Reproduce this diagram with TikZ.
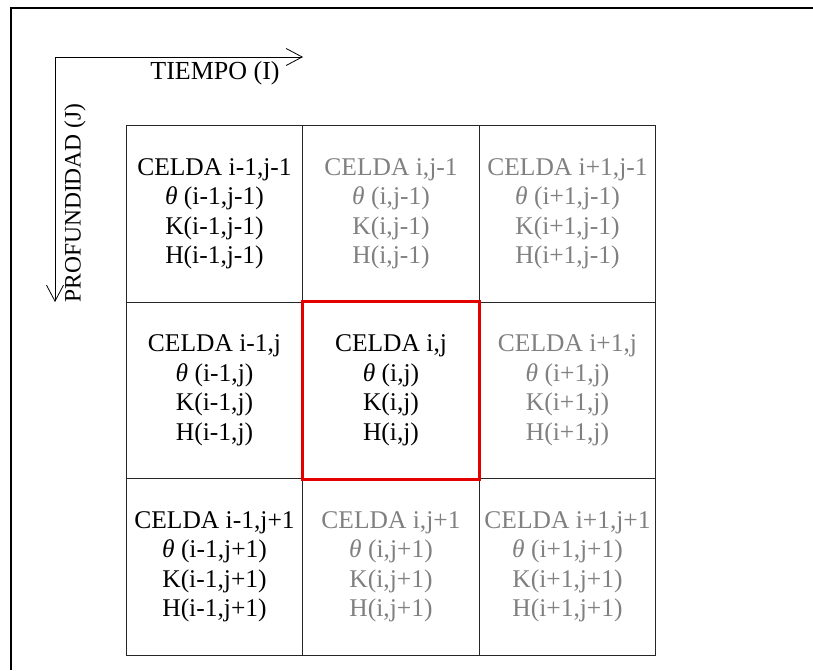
\documentclass[tikz,border=0pt]{standalone}
\usepackage{fontspec}
\setmainfont{Liberation Serif}
\usetikzlibrary{arrows.meta}
\definecolor{cellgray}{RGB}{128,128,128}
\begin{document}
\begin{tikzpicture}[x=1pt,y=-1pt,
  cellbox/.style={draw=black!85, line width=0.9pt, minimum width=176.7pt, minimum height=176.5pt, inner sep=0pt, align=center, font=\fontsize{25.5}{29.5}\selectfont},
  dim/.style={text=cellgray},
  lab/.style={inner sep=0pt},
  axis/.style={line width=0.8pt, -{Straight Barb[length=16pt,width=17pt,line width=0.8pt]}},
  frame/.style={line width=2pt}]
\useasboundingbox (0,0) rectangle (813,670);
% frame
\coordinate (ftl) at (11,8);
\coordinate (ftr) at (813,8);
\coordinate (fbl) at (11,670);
\draw[frame] (fbl) -- (ftl) -- (ftr);
% cells
\node[cellbox] (c11) at (214.5,214) {CELDA i-1,j-1\\{\itshape θ} (i-1,j-1)\\K(i-1,j-1)\\H(i-1,j-1)};
\node[cellbox,dim] (c21) at (391,214) {CELDA i,j-1\\{\itshape θ} (i,j-1)\\K(i,j-1)\\H(i,j-1)};
\node[cellbox,dim] (c31) at (567.5,214) {CELDA i+1,j-1\\{\itshape θ} (i+1,j-1)\\K(i+1,j-1)\\H(i+1,j-1)};
\node[cellbox] (c12) at (214.5,390.5) {CELDA i-1,j\\{\itshape θ} (i-1,j)\\K(i-1,j)\\H(i-1,j)};
\node[cellbox] (c22) at (391,390.5) {CELDA i,j\\{\itshape θ} (i,j)\\K(i,j)\\H(i,j)};
\node[cellbox,dim] (c32) at (567.5,390.5) {CELDA i+1,j\\{\itshape θ} (i+1,j)\\K(i+1,j)\\H(i+1,j)};
\node[cellbox] (c13) at (214.5,567) {CELDA i-1,j+1\\{\itshape θ} (i-1,j+1)\\K(i-1,j+1)\\H(i-1,j+1)};
\node[cellbox,dim] (c23) at (391,567) {CELDA i,j+1\\{\itshape θ} (i,j+1)\\K(i,j+1)\\H(i,j+1)};
\node[cellbox,dim] (c33) at (567.5,567) {CELDA i+1,j+1\\{\itshape θ} (i+1,j+1)\\K(i+1,j+1)\\H(i+1,j+1)};
% highlighted cell
\draw[red!90!black, line width=3pt] (c22.north west) rectangle (c22.south east);
% axes
\coordinate (o) at (55,57);
\coordinate (ix) at (303,57);
\coordinate (jy) at (55,302);
\draw[axis] (o) -- (ix);
\draw[axis] (o) -- (jy);
\node[lab, font=\fontsize{26}{30}\selectfont] (tiempo) at (215,73) {TIEMPO (I)};
\node[lab, rotate=90, font=\fontsize{23.5}{28}\selectfont] (prof) at (75,203) {PROFUNDIDAD (J)};
\end{tikzpicture}
\end{document}
